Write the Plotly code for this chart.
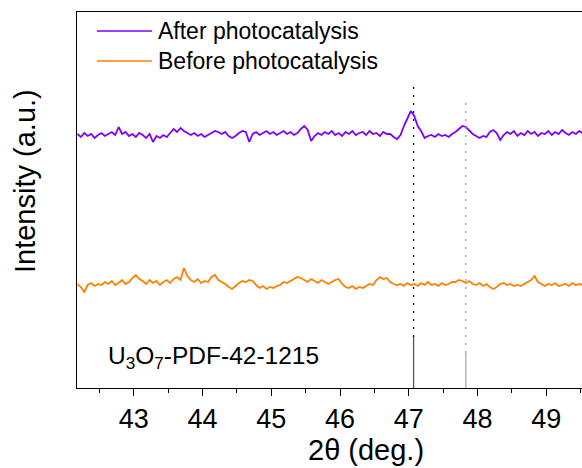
import numpy as np
import plotly.graph_objects as go

# ---- data (intensities in arbitrary units) ----
two_theta = np.round(42.18 + 0.05 * np.arange(148), 2)

after = [254, 251, 255, 252, 254, 250, 253,
         255, 252, 254, 256, 253,
         261, 254,
         256, 252, 254, 251, 255, 253, 250, 254,
         246,
         252, 250, 253, 251, 255,
         259, 256, 260, 257, 255,
         253, 255, 252, 254, 251, 253,
         255, 257, 256, 254, 256,
         252, 250, 252,
         255, 257, 256,
         246,
         254, 256, 253, 255, 257, 254, 256, 253,
         255, 257,
         254, 256, 253, 255,
         259, 262, 258,
         247,
         252, 255,
         253, 256, 254, 257, 253, 255, 252, 256, 254, 257,
         253, 255, 256, 253, 257, 254, 255, 252, 256, 254,
         254, 251,
         249,
         253,
         262, 270, 277, 272, 262, 257, 250, 252,
         253, 251, 254, 252, 253, 251, 254,
         256, 259, 262, 261, 257, 254,
         252, 250, 252, 251,
         256, 258, 255,
         248,
         253, 256, 254, 257, 252, 255, 253, 257, 254, 256, 252, 255,
         254, 257, 253, 256, 254, 258, 255, 253, 256, 254, 257, 255]

before = [104, 101, 96, 103, 105, 102, 104,
          103, 106, 104, 107, 103, 105, 108, 104, 106,
          110, 113, 109,
          107, 104, 108, 105, 107, 103, 106, 108, 105,
          109, 111, 108,
          120, 112,
          108, 106, 109, 105, 107, 106,
          111, 113,
          108, 106, 104,
          101, 99, 102,
          105, 107, 106,
          108, 107,
          103, 100, 102, 99, 101, 100, 102,
          103, 106,
          105,
          107, 109, 111,
          110,
          108, 106, 109, 107, 105, 108, 106, 104,
          106, 108, 109,
          104, 101, 100, 102, 99, 101, 100,
          102, 104, 103,
          108, 111,
          109, 110,
          106, 104, 103,
          104, 102, 105, 103, 104,
          102, 105, 103, 106, 103, 104, 102,
          105, 103, 104, 106,
          106, 108, 107, 105, 107,
          104, 103, 105, 102, 104,
          101, 99,
          101, 104, 105,
          103, 104, 102, 103,
          102, 104,
          106, 108,
          112,
          106, 104,
          102, 104, 103, 105, 102, 103, 104, 102, 105, 103, 104, 103]

two_theta_a = two_theta[:len(after)]
two_theta_b = two_theta[:len(before)]

# PDF 42-1215 reference sticks
pdf_pos = [47.07, 47.83]
pdf_int = [51, 35]
guide_top = [303, 288]
pdf_colors = ["#555555", "#aaaaaa"]
guide_colors = ["#000000", "#999999"]

series_names = ["After photocatalysis", "Before photocatalysis"]
series_colors = ["#7F00FF", "#FF8000"]
x_ticks = [43, 44, 45, 46, 47, 48, 49]

FONT = "Liberation Sans, Arial, sans-serif"

fig = go.Figure()
fig.add_trace(go.Scatter(x=two_theta_a, y=after, mode="lines",
                         line=dict(color=series_colors[0], width=1.8),
                         name=series_names[0], showlegend=False))
fig.add_trace(go.Scatter(x=two_theta_b, y=before, mode="lines",
                         line=dict(color=series_colors[1], width=1.8),
                         name=series_names[1], showlegend=False))

for p, h, top, c, gc in zip(pdf_pos, pdf_int, guide_top, pdf_colors, guide_colors):
    fig.add_trace(go.Scatter(x=[p, p], y=[h, top], mode="lines",
                             line=dict(color=gc, width=1.3, dash="2px,6px"),
                             showlegend=False, hoverinfo="skip"))
    fig.add_trace(go.Scatter(x=[p, p], y=[0, h], mode="lines",
                             line=dict(color=c, width=1.3),
                             showlegend=False, hoverinfo="skip"))

W, H = 582, 468
L, R, T, B = 77, 0, 12, 80
pw, ph = W - L - R, H - T - B

def px(x):
    return (x - L) / pw

def py(y):
    return (H - B - y) / ph

shapes = []
annotations = []
legend_y = [31, 61]
for name, col, yy in zip(series_names, series_colors, legend_y):
    shapes.append(dict(type="line", xref="paper", yref="paper",
                       x0=px(97), x1=px(152), y0=py(yy), y1=py(yy),
                       line=dict(color=col, width=1.6)))
    annotations.append(dict(text=name, xref="paper", yref="paper",
                            x=px(156), y=py(yy), xanchor="left", yanchor="middle",
                            showarrow=False, font=dict(size=23, color="black", family=FONT)))

annotations.append(dict(text="U<sub>3</sub>O<sub>7</sub>-PDF-42-1215",
                        xref="paper", yref="paper", x=px(106), y=py(357),
                        xanchor="left", yanchor="middle", showarrow=False,
                        font=dict(size=24.5, color="black", family=FONT)))
annotations.append(dict(text="2θ (deg.)", xref="paper", yref="paper",
                        x=px(366), y=py(450), xanchor="center", yanchor="middle",
                        showarrow=False, font=dict(size=29, color="black", family=FONT)))
annotations.append(dict(text="Intensity (a.u.)", xref="paper", yref="paper",
                        x=px(25), y=py(181), xanchor="center", yanchor="middle",
                        textangle=-90, showarrow=False,
                        font=dict(size=29, color="black", family=FONT)))

fig.update_layout(
    width=W, height=H,
    margin=dict(l=L, r=R, t=T, b=B),
    paper_bgcolor="white", plot_bgcolor="white",
    font=dict(family=FONT, color="black"),
    shapes=shapes, annotations=annotations,
    showlegend=False,
)
fig.update_xaxes(range=[42.174, 49.52], showgrid=False, zeroline=False,
                 showline=True, linecolor="black", linewidth=1, mirror=True,
                 ticks="outside", ticklen=7, tickwidth=1, tickcolor="black",
                 tickvals=x_ticks, ticklabelstandoff=0,
                 tickfont=dict(size=27, color="black", family=FONT),
                 minor=dict(ticks="outside", ticklen=4, tickwidth=1, tickcolor="black",
                            dtick=0.5, tick0=42.5))
fig.update_yaxes(range=[0, 376], showgrid=False, zeroline=False,
                 showline=True, linecolor="black", linewidth=1, mirror=False,
                 showticklabels=False, ticks="")

fig.write_html("out.html")
